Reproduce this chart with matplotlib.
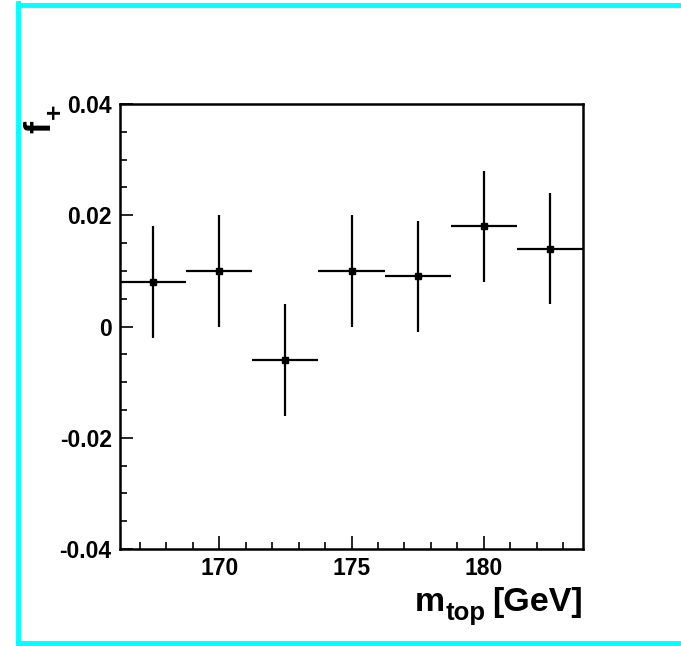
import numpy as np
import matplotlib
matplotlib.use('Agg')
import matplotlib.pyplot as plt
from matplotlib.lines import Line2D
from matplotlib.ticker import MultipleLocator

plt.rcParams['font.family'] = ['Liberation Sans', 'DejaVu Sans']

# data
m_top = [167.5, 170.0, 172.5, 175.0, 177.5, 180.0, 182.5]
f_plus = [0.008, 0.010, -0.006, 0.010, 0.009, 0.018, 0.014]
f_err = [0.010, 0.010, 0.010, 0.010, 0.010, 0.010, 0.010]
bin_half = [1.25] * 7

x_ticks = [170, 175, 180]
y_ticks = [-0.04, -0.02, 0.0, 0.02, 0.04]
y_ticklabels = ['-0.04', '-0.02', '0', '0.02', '0.04']

W, H = 681, 646
fig = plt.figure(figsize=(W / 100, H / 100), dpi=100)

def px(x, y):
    # pixel position (from top-left) -> figure fraction
    return x / W, 1 - y / H

# cyan frame (ROOT canvas highlight)
cyan = '#00ffff'
for xs, ys in [([18, W], [5, 5]), ([18, W], [643, 643]), ([18, 18], [3, 645])]:
    fig.add_artist(Line2D([x / W for x in xs], [1 - y / H for y in ys], color=cyan,
                          lw=3.5, transform=fig.transFigure))

ax = fig.add_axes([120 / W, 1 - 549 / H, (583 - 120) / W, (549 - 104) / H])

ax.errorbar(m_top, f_plus, yerr=f_err, xerr=bin_half, fmt='s', color='black',
            ms=4, elinewidth=1.6, capsize=0)

ax.set_xlim(166.25, 183.75)
ax.set_ylim(-0.04, 0.04)
ax.set_xticks(x_ticks)
ax.set_xticklabels([str(t) for t in x_ticks])
ax.set_yticks(y_ticks)
ax.set_yticklabels(y_ticklabels)
ax.xaxis.set_minor_locator(MultipleLocator(1))
ax.yaxis.set_minor_locator(MultipleLocator(0.005))

ax.tick_params(which='both', direction='in', top=False, right=False, width=1.2,
               labelsize=16.5, colors='black')
ax.tick_params(which='major', length=9.5)
ax.tick_params(which='minor', length=5)
ax.tick_params(axis='x', which='major', pad=6)
ax.tick_params(axis='y', which='major', pad=6)
for lab in ax.get_xticklabels() + ax.get_yticklabels():
    lab.set_fontweight('bold')
for sp in ax.spines.values():
    sp.set_linewidth(1.8)

# x title "m_top [GeV]" laid out piece by piece, right aligned to the frame
r = fig.canvas.get_renderer()
t_gev = fig.text(*px(583, 611), '[GeV]', ha='right', va='baseline', fontsize=24.5, fontweight='bold')
bb = t_gev.get_window_extent(r)
t_sub = fig.text((bb.x0 - 7) / W, 1 - 620 / H, 'top', ha='right', va='baseline', fontsize=18.5, fontweight='bold')
bb = t_sub.get_window_extent(r)
fig.text((bb.x0 - 1) / W, 1 - 611 / H, 'm', ha='right', va='baseline', fontsize=24.5, fontweight='bold')

# y title "f_+" rotated, at the top of the axis
fig.text(*px(50, 133), 'f', rotation=90, rotation_mode='anchor', ha='left', va='baseline',
         fontsize=26, fontweight='bold')
fig.text(*px(62, 119), '+', rotation=90, rotation_mode='anchor', ha='left', va='baseline',
         fontsize=19, fontweight='bold')

fig.savefig('out.png', dpi=100)
